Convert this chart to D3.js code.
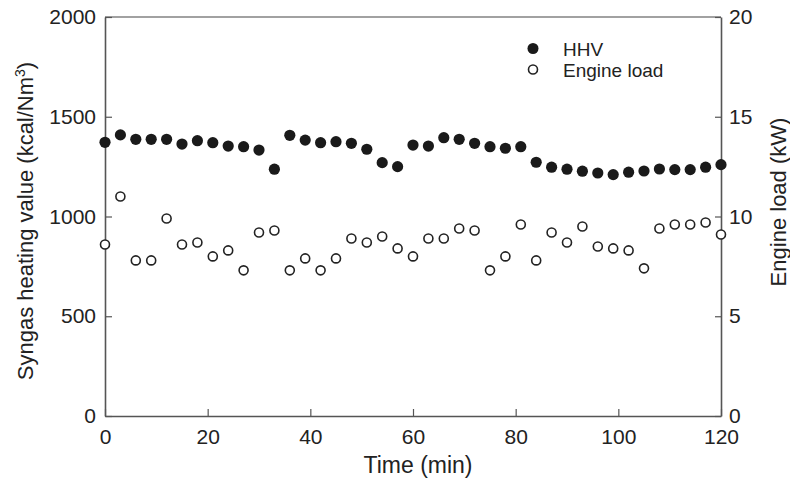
<!DOCTYPE html>
<html>
<head>
<meta charset="utf-8">
<script src="https://cdn.jsdelivr.net/npm/d3@7"></script>
<style>
  body { margin: 0; background: #fff; }
  text { font-family: "Liberation Sans", Arial, sans-serif; fill: #222; }
</style>
</head>
<body>
<div id="vis"></div>
<script>
// Data
const timeMin = [0, 3, 6, 9, 12, 15, 18, 21, 24, 27, 30, 33, 36, 39, 42, 45, 48, 51, 54, 57, 60,
  63, 66, 69, 72, 75, 78, 81, 84, 87, 90, 93, 96, 99, 102, 105, 108, 111, 114, 117, 120];
const hhv = [1372, 1409, 1387, 1387, 1387, 1363, 1380, 1370, 1353, 1350, 1333, 1237, 1407, 1383,
  1370, 1375, 1367, 1337, 1270, 1250, 1358, 1353, 1395, 1387, 1367, 1350, 1342, 1350, 1272, 1247,
  1237, 1227, 1218, 1210, 1222, 1228, 1238, 1235, 1235, 1247, 1260];
const engineLoad = [8.6, 11.0, 7.8, 7.8, 9.9, 8.6, 8.7, 8.0, 8.3, 7.3, 9.2, 9.3, 7.3, 7.9,
  7.3, 7.9, 8.9, 8.7, 9.0, 8.4, 8.0, 8.9, 8.9, 9.4, 9.3, 7.3, 8.0, 9.6, 7.8, 9.2,
  8.7, 9.5, 8.5, 8.4, 8.3, 7.4, 9.4, 9.6, 9.6, 9.7, 9.1];
const xTicks = [0, 20, 40, 60, 80, 100, 120];
const yLeftTicks = [0, 500, 1000, 1500, 2000];
const yRightTicks = [0, 5, 10, 15, 20];
const legendNames = ["HHV", "Engine load"];

// Basic set up
const W = 790, H = 483;
const margin = {top: 17, right: 69, bottom: 67, left: 105};
const width = W - margin.left - margin.right;
const height = H - margin.top - margin.bottom;

const svg = d3.select("#vis").append("svg")
    .attr("width", W)
    .attr("height", H);
const g = svg.append("g")
    .attr("transform", "translate(" + margin.left + "," + margin.top + ")");

// Scales
const x = d3.scaleLinear().domain([0, 120]).range([0, width]);
const yL = d3.scaleLinear().domain([0, 2000]).range([height, 0]);
const yR = d3.scaleLinear().domain([0, 20]).range([height, 0]);

// Frame (top line)
g.append("line")
    .attr("x1", 0).attr("x2", width)
    .attr("y1", 0).attr("y2", 0)
    .attr("stroke", "#444").attr("stroke-width", 1.2);

// Axes, ticks pointing inward
function styleAxis(sel) {
  sel.selectAll("path.domain").attr("stroke", "#555").attr("stroke-width", 1.6);
  sel.selectAll(".tick line").attr("stroke", "#555").attr("stroke-width", 1.2);
  sel.selectAll(".tick text").style("font-size", "21px").attr("fill", "#222")
      .style("font-family", "'Liberation Sans', Arial, sans-serif");
}

g.append("g")
    .attr("transform", "translate(0," + height + ")")
    .call(d3.axisBottom(x).tickValues(xTicks).tickFormat(d3.format("d"))
      .tickSizeInner(-7).tickSizeOuter(0).tickPadding(13))
    .call(styleAxis);

g.append("g")
    .call(d3.axisLeft(yL).tickValues(yLeftTicks).tickFormat(d3.format("d"))
      .tickSizeInner(-7).tickSizeOuter(0).tickPadding(9))
    .call(styleAxis);

g.append("g")
    .attr("transform", "translate(" + width + ",0)")
    .call(d3.axisRight(yR).tickValues(yRightTicks).tickFormat(d3.format("d"))
      .tickSizeInner(-6).tickSizeOuter(0).tickPadding(8))
    .call(styleAxis);

// Points
const pts = timeMin.map((t, i) => ({t: t, hhv: hhv[i], load: engineLoad[i]}));

g.selectAll("circle.load")
  .data(pts)
  .enter().append("circle")
    .attr("class", "load")
    .attr("cx", d => x(d.t))
    .attr("cy", d => yR(d.load))
    .attr("r", 4.5)
    .attr("fill", "#fff")
    .attr("stroke", "#222")
    .attr("stroke-width", 1.6);

g.selectAll("circle.hhv")
  .data(pts)
  .enter().append("circle")
    .attr("class", "hhv")
    .attr("cx", d => x(d.t))
    .attr("cy", d => yL(d.hhv))
    .attr("r", 5.6)
    .attr("fill", "#1a1a1a");

// Legend
const legend = svg.append("g").attr("transform", "translate(533,48.5)");
legend.append("circle").attr("cx", 0).attr("cy", 0).attr("r", 5.5).attr("fill", "#1a1a1a");
legend.append("circle").attr("cx", 0).attr("cy", 21).attr("r", 4.5)
    .attr("fill", "#fff").attr("stroke", "#222").attr("stroke-width", 1.6);
legend.selectAll("text.lab")
  .data(legendNames)
  .enter().append("text")
    .attr("class", "lab")
    .attr("x", 30)
    .attr("y", (d, i) => 7 + i * 21)
    .style("font-size", "19px")
    .text(d => d);

// X-Axis label
svg.append("text")
    .attr("x", 418)
    .attr("y", 473)
    .style("text-anchor", "middle")
    .style("font-size", "23px")
    .text("Time (min)");

// Left Y-Axis label
const yl = svg.append("text")
    .attr("transform", "translate(33,221) rotate(-90)")
    .style("text-anchor", "middle")
    .style("font-size", "22px");
yl.append("tspan").text("Syngas heating value (kcal/Nm");
yl.append("tspan").attr("dy", -8).style("font-size", "14px").text("3");
yl.append("tspan").attr("dy", 8).text(")");

// Right Y-Axis label
svg.append("text")
    .attr("transform", "translate(786,202) rotate(-90)")
    .style("text-anchor", "middle")
    .style("font-size", "22px")
    .text("Engine load (kW)");
</script>
</body>
</html>
